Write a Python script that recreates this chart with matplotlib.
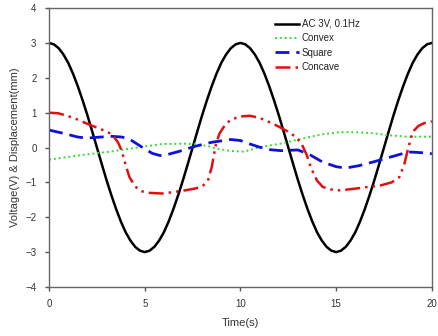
import matplotlib.pyplot as plt

# values
t_ac = [i * 0.25 for i in range(81)]
ac_period = [3.0, 2.96, 2.85, 2.67, 2.43, 2.12, 1.76, 1.36, 0.93, 0.47, 0.0, -0.47, -0.93, -1.36, -1.76, -2.12,
             -2.43, -2.67, -2.85, -2.96, -3.0, -2.96, -2.85, -2.67, -2.43, -2.12, -1.76, -1.36, -0.93, -0.47,
             0.0, 0.47, 0.93, 1.36, 1.76, 2.12, 2.43, 2.67, 2.85, 2.96, 3.0]
v_ac = ac_period + ac_period[1:]

t_convex = [0, 1.5, 3.3, 5.0, 5.9, 7.0, 7.6, 8.3, 8.8, 9.5, 10.2, 11.0, 12.0, 12.8, 13.5, 14.3,
            15.2, 16.0, 16.9, 17.8, 18.7, 20.0]
v_convex = [-0.35, -0.23, -0.11, 0.03, 0.1, 0.11, 0.1, 0.04, -0.04, -0.1, -0.12, 0.01, 0.1, 0.2, 0.29, 0.38,
            0.44, 0.44, 0.41, 0.35, 0.31, 0.31]

t_square = [0, 0.8, 1.5, 2.0, 2.7, 3.3, 3.8, 4.2, 4.6, 5.0, 5.4, 5.8, 6.2, 6.8, 7.6, 8.5, 9.5, 10.0,
            10.5, 11.0, 11.5, 12.1, 13.0, 13.6, 14.3, 15.0, 15.5, 16.2, 16.9, 17.8, 18.5, 18.9, 19.5, 20.0]
v_square = [0.5, 0.4, 0.3, 0.27, 0.3, 0.32, 0.3, 0.24, 0.1, -0.04, -0.17, -0.23, -0.2, -0.11, 0.03, 0.15, 0.23, 0.2,
            0.1, 0.01, -0.06, -0.09, -0.07, -0.2, -0.42, -0.55, -0.59, -0.52, -0.42, -0.28, -0.17, -0.13, -0.15, -0.18]

t_concave = [0, 0.5, 1.0, 1.5, 2.0, 2.5, 3.0, 3.3, 3.6, 3.8, 4.0, 4.2, 4.5, 4.8, 5.2, 5.9, 6.5, 7.1, 7.6,
             8.0, 8.3, 8.5, 8.7, 8.9, 9.2, 9.5, 10.0, 10.5, 11.0, 11.5, 12.0, 12.5, 12.9, 13.2, 13.45, 13.7,
             14.0, 14.3, 14.7, 15.2, 16.0, 16.7, 17.3, 17.9, 18.3, 18.55, 18.75, 19.0, 19.3, 19.6, 20.0]
v_concave = [1.0, 0.98, 0.9, 0.8, 0.68, 0.57, 0.46, 0.37, 0.15, -0.1, -0.5, -0.85, -1.12, -1.25, -1.3, -1.32, -1.28, -1.23, -1.18,
             -1.12, -0.95, -0.56, 0.05, 0.4, 0.65, 0.8, 0.89, 0.91, 0.85, 0.73, 0.6, 0.45, 0.3, 0.1, -0.2, -0.6,
             -0.95, -1.13, -1.2, -1.23, -1.18, -1.13, -1.09, -1.0, -0.85, -0.5, -0.05, 0.45, 0.62, 0.7, 0.75]

plt.rcParams['font.family'] = ['Liberation Sans', 'DejaVu Sans']

fig = plt.figure(figsize=(4.38, 3.36), dpi=100)
ax = fig.add_axes([0.112, 0.146, 0.874, 0.830])

ax.plot(t_ac, v_ac, c='black', lw=1.8, label='AC 3V, 0.1Hz')
ax.plot(t_convex, v_convex, c='#33dd33', lw=1.4, ls=(0, (1, 1.5)), label='Convex')
ax.plot(t_square, v_square, c='#1010dd', lw=2.0, ls=(0, (5, 2.5)), label='Square')
ax.plot(t_concave, v_concave, c='#dd1111', lw=1.8, ls=(0, (6, 2, 1, 2, 1, 2)), label='Concave')

ax.set_xlim(0, 20)
ax.set_ylim(-4, 4)
ax.set_xticks([0, 5, 10, 15, 20])
ax.set_yticks(range(-4, 5))
ax.tick_params(direction='out', length=3, width=1, color='#555555', labelsize=7, labelcolor='#333333', pad=6)
for s in ax.spines.values():
    s.set_color('#666666')
    s.set_linewidth(1)

ax.set_xlabel('Time(s)', fontsize=8, color='#333333', labelpad=6)
ax.set_ylabel('Voltage(V) & Displacement(mm)', fontsize=8, color='#333333', labelpad=4)

leg = ax.legend(loc='upper left', bbox_to_anchor=(0.58, 0.975), frameon=False, fontsize=7,
                handlelength=2.5, handletextpad=0.25, labelspacing=0.45, borderaxespad=0)
for txt in leg.get_texts():
    txt.set_color('#222222')

fig.savefig('out.png', dpi=100)
